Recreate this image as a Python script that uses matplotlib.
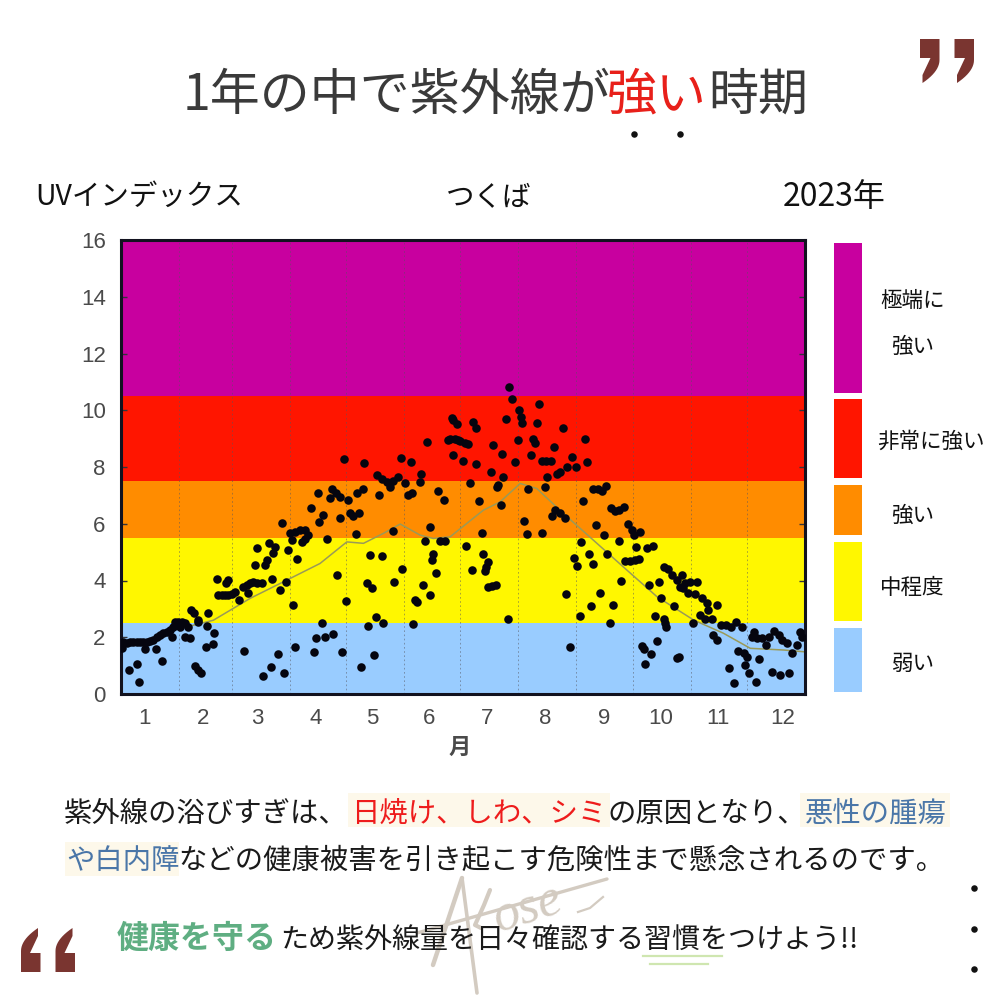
import matplotlib
matplotlib.use('Agg')
import matplotlib.pyplot as plt
import numpy as np
from matplotlib.patches import Rectangle, Polygon

plt.rcParams['font.family'] = ['Noto Sans CJK JP', 'DejaVu Sans']

# datos: dia del año e indice UV
dias = [0.4, 1.2, 3, 4.8, 6.6, 8.4, 10.1, 11.9, 13.7, 15.5, 17.3, 19, 20.8, 22.6, 24.4, 26.2, 27.9, 28.8, 30.6, 32.4,
        34.2, 35.9, 31.5, 27, 12.8, 18.7, 21.7, 8.4, 4.3, 9.6, 34.2, 36.8, 37.2, 39.1, 41.3, 41.3, 45.7, 46.6, 45.4, 48.9,
        49.8, 39.5, 41.3, 42.7, 51.1, 57.3, 56, 52, 53.7, 55.5, 57.3, 59.1, 60.9, 63.2, 65.3, 67, 67.9, 68.9, 70.6, 72.4,
        75.1, 80.8, 84.9, 88.1, 71.5, 76.9, 77.8, 72.8, 79, 82.2, 81.3, 89, 93.8, 92, 92.9, 65.8, 84, 79.9, 75.6, 87,
        85.8, 90.2, 91.1, 92.9, 95.6, 98.2, 100, 96.4, 98.2, 107.1, 104.1, 108.9, 113, 103, 118.1, 115.1, 120.1, 101.2, 105.3, 107.7,
        105.9, 110.1, 111.6, 112.5, 114.8, 116.9, 116.9, 119.2, 121, 122.2, 124, 127.2, 125.3, 125.8, 129, 129.9, 137.9, 136.5, 139.1, 141.8,
        143.6, 145.3, 147.7, 151.6, 153.4, 155.2, 159.3, 160.1, 149.5, 154.6, 163.3, 169.4, 172.4, 165, 162.3, 145.4, 132.9, 139.1, 150.2, 145.9,
        131.1, 133.8, 161, 165, 156.9, 158.2, 166.7, 166, 168.1, 136.1, 132, 140, 156, 135.1, 127.9, 170.3, 173, 176.5, 174.7, 177.4,
        180, 177.4, 179.2, 175.6, 178.3, 181, 183.6, 185.4, 182.4, 189.5, 188.1, 189.5, 186.3, 197.3, 198.4, 203.2, 205.3, 204.1, 201.4, 200.5,
        191.3, 202.7, 207.3, 208.5, 210, 211.6, 212.5, 213.3, 214, 218.9, 219.8, 220.7, 222.2, 223.3, 217.4, 224.6, 226.9, 229.3, 230.8, 227.2,
        232.6, 234.4, 226.3, 235.8, 238, 240.6, 243, 247.7, 248.9, 246.8, 252.1, 254.8, 256.6, 258.9, 229.9, 231.7, 234.3, 236.7, 215.3, 216.6,
        224.6, 192.5, 184.2, 193.1, 195.6, 194.8, 194.3, 187.2, 195.6, 197.9, 200, 206.4, 245.5, 241.5, 243.2, 249.8, 251.8, 237.5, 244.7, 250.7,
        255.7, 262.5, 260.7, 239.7, 253.6, 257.8, 265.9, 259.6, 266.9, 261.4, 263.7, 265.5, 268.2, 270.8, 272.6, 273.5, 277, 274.9, 269, 271.7,
        274.4, 276.2, 280.6, 283.8, 281.9, 287.3, 288.2, 295, 284.7, 289.9, 290.4, 291, 286, 278, 279.2, 282.7, 279.7, 296.6, 298, 289.5,
        292.1, 293.9, 296.6, 299.6, 298.3, 301, 303.7, 307.3, 300, 302.8, 306.4, 310, 312.6, 318, 313.5, 309.1, 315.3, 311.7, 305.1, 320.3,
        323, 325.7, 328.3, 331.3, 316, 318, 329.5, 332.2, 334, 333.1, 334.9, 324.2, 326.9, 339, 340.3, 347.4, 351.4, 356.3, 337.9, 336.6,
        339.3, 342, 344.3, 345.6, 348.2, 350.9, 352.7, 355.3, 358, 360.7, 362.5, 363.4]
uv = [1.61, 1.84, 1.81, 1.84, 1.84, 1.84, 1.84, 1.84, 1.84, 1.88, 1.92, 2.02, 2.08, 2.16, 2.19, 2.25, 2.37, 2.55, 2.55, 2.55,
      2.49, 2.37, 2.37, 2.02, 1.57, 1.57, 1.16, 1.06, 0.85, 0.43, 2.02, 1.98, 2.96, 2.86, 2.55, 2.61, 2.39, 2.84, 1.67, 1.75,
      2.14, 0.99, 0.85, 0.75, 4.07, 4.01, 3.9, 3.49, 3.49, 3.49, 3.49, 3.52, 3.6, 3.31, 3.78, 3.84, 3.57, 3.9, 3.96, 3.9,
      3.9, 4.04, 3.66, 3.93, 4.54, 4.54, 4.74, 5.13, 5.31, 5.19, 4.98, 5.07, 4.75, 3.12, 1.64, 1.51, 1.41, 0.96, 0.63, 0.73,
      6.03, 5.66, 5.42, 5.72, 5.77, 5.77, 5.6, 5.36, 5.48, 2.49, 1.96, 2.02, 2.1, 1.49, 1.49, 4.19, 3.29, 6.56, 7.09, 6.3,
      6.07, 5.48, 6.89, 7.24, 7.07, 6.95, 6.21, 8.27, 6.83, 6.38, 6.27, 6.38, 5.63, 7.09, 7.24, 8.15, 7.01, 7.71, 7.59, 7.48,
      7.3, 7.51, 7.65, 7.42, 7.01, 7.07, 7.48, 7.77, 8.3, 8.18, 8.88, 7.16, 6.85, 5.89, 5.4, 5.75, 4.89, 4.86, 4.42, 3.93,
      3.9, 3.72, 3.84, 3.49, 3.31, 3.23, 4.95, 4.72, 4.28, 2.72, 2.41, 2.49, 2.46, 1.37, 0.94, 5.4, 5.4, 9.71, 8.94, 8.42,
      8.94, 9.65, 9.53, 9.0, 8.97, 8.92, 8.83, 8.8, 8.2, 8.1, 9.59, 9.39, 7.42, 7.83, 8.77, 8.47, 9.68, 7.65, 7.36, 7.28,
      6.8, 6.65, 10.82, 10.41, 8.18, 8.94, 10.0, 9.77, 9.55, 8.42, 9.0, 8.85, 9.55, 10.21, 7.21, 8.22, 8.22, 8.22, 8.71, 7.63,
      7.75, 7.83, 7.3, 9.39, 8.0, 8.36, 8.0, 9.0, 8.16, 6.8, 7.24, 7.24, 7.16, 7.34, 6.27, 6.5, 6.38, 6.22, 6.1, 5.63,
      5.66, 5.66, 5.22, 4.95, 4.66, 4.48, 4.34, 4.37, 3.76, 3.8, 3.85, 2.63, 5.36, 4.78, 4.51, 4.92, 4.58, 3.54, 2.76, 3.1,
      3.57, 3.13, 2.51, 1.67, 5.97, 5.6, 5.4, 4.93, 3.99, 6.54, 6.46, 6.5, 6.6, 5.99, 5.77, 5.6, 5.72, 5.19, 4.69, 4.68,
      4.72, 4.75, 5.13, 5.22, 3.84, 3.93, 3.4, 3.1, 2.75, 2.64, 2.49, 2.35, 1.87, 1.69, 1.57, 1.4, 1.06, 1.26, 1.29, 4.48,
      4.4, 4.19, 4.01, 4.19, 3.78, 3.9, 3.96, 3.93, 3.72, 3.57, 3.54, 3.37, 3.19, 3.13, 2.96, 2.78, 2.66, 2.66, 2.49, 2.43,
      2.43, 2.37, 2.55, 2.37, 2.08, 1.9, 1.53, 1.43, 1.31, 1.02, 0.75, 0.9, 0.4, 0.41, 1.22, 0.79, 0.67, 0.75, 2.19, 2.02,
      1.96, 1.96, 1.73, 2.02, 2.23, 2.08, 1.9, 1.78, 1.46, 1.73, 2.19, 2.02]

# promedio (linea fina)
dias_linea = [0, 19, 28, 49.3, 68.9, 88.4, 106.2, 120.5, 129.4, 140, 149, 159.6, 166.7, 175.6, 193.4, 202.3, 213, 221.9,
              236.1, 252.1, 269.9, 286, 305.5, 321.5, 335.8, 353.6, 364.2]
uv_linea = [1.85, 1.85, 2.25, 2.6, 3.37, 4.01, 4.6, 5.36, 5.31, 5.66, 5.99, 5.6, 5.48, 5.54, 6.48, 6.77, 7.42, 7.24,
            6.36, 5.42, 4.37, 3.43, 2.61, 2.14, 1.61, 1.55, 1.49]

dias_mes = [31, 28, 31, 30, 31, 30, 31, 31, 30, 31, 30, 31]
meses = ['1', '2', '3', '4', '5', '6', '7', '8', '9', '10', '11', '12']
pos_meses = [12.8, 43.8, 72.6, 104, 133.9, 164.3, 195.3, 226.2, 257.7, 288, 318.5, 353]

limites = [0, 2.5, 5.5, 7.5, 10.5, 16]
colores = ['#99ccff', '#fff700', '#ff8c00', '#ff1500', '#c8009f']
categorias = ['弱い', '中程度', '強い', '非常に強い', '極端に\n\n強い']

fig = plt.figure(figsize=(10, 10), dpi=100)

# fondo en pixeles para textos y adornos
bg = fig.add_axes([0, 0, 1, 1], zorder=0)
bg.set_xlim(0, 1000)
bg.set_ylim(1000, 0)
bg.axis('off')

# grafico principal
ax = fig.add_axes([0.121, 0.306, 0.684, 0.454], zorder=1)
for i in range(len(colores)):
    ax.axhspan(limites[i], limites[i + 1], color=colores[i], lw=0, zorder=0)
for d in np.cumsum(dias_mes)[:-1]:
    ax.axvline(d, color='#55555f', lw=0.6, ls=(0, (2, 3)), alpha=0.6, zorder=1)
ax.plot(dias_linea, uv_linea, color='#9a9a58', lw=1.1, zorder=2)
ax.scatter(dias, uv, s=38, color='#05050f', lw=0, zorder=3)
ax.set_xlim(0, 365)
ax.set_ylim(0, 16)
ax.set_yticks(range(0, 17, 2))
ax.set_xticks(pos_meses)
ax.set_xticklabels(meses)
ax.tick_params(axis='x', length=0, pad=10, labelsize=16, labelcolor='#4a4a4a')
ax.tick_params(axis='y', length=4, width=1, direction='in', right=True, pad=11, labelsize=16, labelcolor='#4a4a4a', color='#33333a')
for lab in ax.get_xticklabels() + ax.get_yticklabels():
    lab.set_family(['Liberation Sans', 'DejaVu Sans'])
for s in ax.spines.values():
    s.set_linewidth(2.2)
    s.set_color('#12121f')
ax.set_xlabel('月', fontsize=16, color='#4a4a4a', labelpad=5, x=0.495, fontweight='bold')

# barra de la derecha
tiras = [(628, 692), (542, 621), (485, 535), (399, 478), (243, 393)]
for i in range(5):
    y0, y1 = tiras[i]
    bg.add_patch(Rectangle((834, y0), 28, y1 - y0, color=colores[i], lw=0))
pos_cat = [(913, 664), (912, 588), (913, 516), (931, 442), (913, 324)]
for i in range(5):
    bg.text(pos_cat[i][0], pos_cat[i][1], categorias[i], fontsize=15.5, color='#111111', ha='center', va='center', linespacing=1.05)

# titulo
for x, t, c in [(183, '1年の中で紫外線が', '#3a3a3a'), (607, '強い', '#e8201a'), (708, '時期', '#3a3a3a')]:
    bg.text(x, 96, t, fontsize=36, color=c, va='center', fontweight='normal')
bg.scatter([634, 680], [134, 134], s=22, color='#111111', lw=0)
bg.text(35, 197, 'UVインデックス', fontsize=20.5, color='#111111', va='center')
bg.text(446, 197, 'つくば', fontsize=20.5, color='#111111', va='center')
bg.text(783, 197, '2023年', fontsize=23, color='#111111', va='center')

# recuadros crema detras del texto
for x, y, w, h in [(348, 793, 262, 34), (800, 793, 150, 34), (65, 842, 114, 34)]:
    bg.add_patch(Rectangle((x, y), w, h, color='#fdf8ea', lw=0))

# firma de agua
firma = '#d3cbc1'
bg.plot([462, 433], [878, 965], color=firma, lw=3.2, solid_capstyle='round')
bg.plot([462, 477], [878, 993], color=firma, lw=2.6, solid_capstyle='round')
bg.plot([417, 607], [933, 879], color=firma, lw=2.4, solid_capstyle='round')
bg.plot([490, 484, 475, 481], [890, 905, 925, 928], color=firma, lw=3, solid_capstyle='round')
bg.text(498, 933, 'ose', fontsize=38, style='italic', family='Liberation Serif', color=firma, rotation=18, va='baseline', rotation_mode='anchor')
bg.plot([578, 590, 603], [912, 908, 897], color=firma, lw=1.6)

# parrafo
for x, y, t, c in [(64, 814, '紫外線の浴びすぎは、', '#1a1a1a'), (351, 814, '日焼け、しわ、シミ', '#ee1c1c'),
                   (607, 814, 'の原因となり、', '#1a1a1a'), (805, 814, '悪性の腫瘍', '#4a76a8'),
                   (66, 861, 'や白内障', '#4a76a8'), (178, 861, 'などの健康被害を引き起こす危険性まで懸念されるのです。', '#1a1a1a')]:
    bg.text(x, y, t, fontsize=20.4, color=c, va='center')
bg.text(117, 939, '健康を守る', fontsize=23, color='#5fae82', va='center', fontweight='bold')
bg.text(280, 940, 'ため紫外線量を日々確認する習慣をつけよう!!', fontsize=20.2, color='#1a1a1a', va='center')
bg.plot([643, 722], [956, 956], color='#cfe6b0', lw=1.6)
bg.plot([650, 708], [964, 964], color='#cfe6b0', lw=1.6)

# puntos sueltos
bg.scatter([974, 974, 974], [888, 929, 969], s=22, color='#111111', lw=0)

# comillas
t = np.linspace(0, 1, 12)
cola_x = 939.5 - 17 * t ** 2
cola_y = 60 + 23 * t
coma = [(920, 39), (939.5, 39)] + list(zip(cola_x, cola_y)) + [(922.5, 75), (930.5, 58), (920, 58)]
coma = np.array(coma)
for dx in [0, 34.5]:
    bg.add_patch(Polygon(coma + [dx, 0], color='#7a3530', lw=0))
    bg.add_patch(Polygon(np.array([995, 1011]) - (coma + [dx, 0]), color='#7a3530', lw=0))

fig.savefig('out.png', dpi=100)
